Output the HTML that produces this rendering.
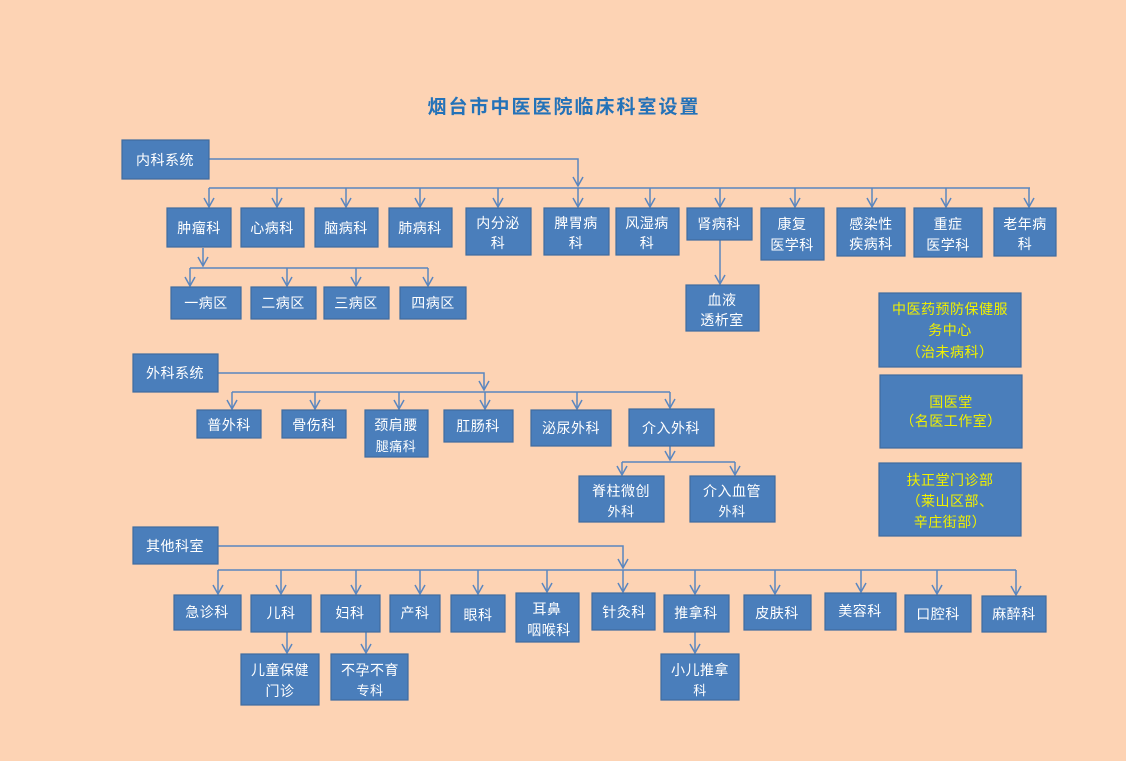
<!DOCTYPE html>
<html><head><meta charset="utf-8"><style>
html,body{margin:0;padding:0;background:#fdd3b4;}
svg{display:block}
text{font-family:"Liberation Sans","Noto Sans CJK SC",sans-serif;}
.b{fill:#4a7ebb;stroke:#3f6c9f;stroke-width:1.2}
.t{fill:#fff;font-size:14px;text-anchor:middle;letter-spacing:0.5px}
.y{fill:#f0f000;font-size:14px;text-anchor:middle;letter-spacing:0.5px}
.l{stroke:#5a86bf;stroke-width:1.5;fill:none}
</style></head><body>
<svg width="1126" height="761" viewBox="0 0 1126 761">
<defs><marker id="a" markerWidth="12" markerHeight="12" refX="10" refY="6" orient="auto" markerUnits="userSpaceOnUse"><path d="M1,1 L10,6 L1,11" stroke="#5a86bf" stroke-width="1.5" fill="none"/></marker></defs>
<text x="564" y="113" style="font-size:19px;font-weight:bold;fill:#2472b8;letter-spacing:2px" text-anchor="middle">烟台市中医医院临床科室设置</text>

<g class="l">
<path d="M209,159 H578 V186" marker-end="url(#a)"/>
<path d="M209,188 H1030"/>
<path d="M209,188 V207" marker-end="url(#a)"/><path d="M277,188 V207" marker-end="url(#a)"/><path d="M346,188 V207" marker-end="url(#a)"/><path d="M420,188 V207" marker-end="url(#a)"/><path d="M498,188 V207" marker-end="url(#a)"/><path d="M578,188 V207" marker-end="url(#a)"/><path d="M650,188 V207" marker-end="url(#a)"/><path d="M720,188 V207" marker-end="url(#a)"/><path d="M795,188 V207" marker-end="url(#a)"/><path d="M872,188 V207" marker-end="url(#a)"/><path d="M946,188 V207" marker-end="url(#a)"/><path d="M1029,188 V207" marker-end="url(#a)"/>
<path d="M203,248 V266" marker-end="url(#a)"/>
<path d="M190,268 H428"/>
<path d="M190,268 V286" marker-end="url(#a)"/><path d="M287,268 V286" marker-end="url(#a)"/><path d="M356,268 V286" marker-end="url(#a)"/><path d="M428,268 V286" marker-end="url(#a)"/>
<path d="M720,240 V284" marker-end="url(#a)"/>
<path d="M218,373 H484 V390" marker-end="url(#a)"/>
<path d="M232,392 H670"/>
<path d="M232,392 V409" marker-end="url(#a)"/><path d="M315,392 V409" marker-end="url(#a)"/><path d="M399,392 V409" marker-end="url(#a)"/><path d="M485,392 V409" marker-end="url(#a)"/><path d="M577,392 V409" marker-end="url(#a)"/><path d="M670,392 V408" marker-end="url(#a)"/>
<path d="M670,446 V460" marker-end="url(#a)"/>
<path d="M622,462 H735"/>
<path d="M622,462 V475" marker-end="url(#a)"/><path d="M735,462 V475" marker-end="url(#a)"/>
<path d="M218,546 H623 V568" marker-end="url(#a)"/>
<path d="M218,570 H1016"/>
<path d="M218,570 V594" marker-end="url(#a)"/><path d="M281,570 V594" marker-end="url(#a)"/><path d="M356,570 V594" marker-end="url(#a)"/><path d="M420,570 V594" marker-end="url(#a)"/><path d="M478,570 V594" marker-end="url(#a)"/><path d="M547,570 V592" marker-end="url(#a)"/><path d="M623,570 V592" marker-end="url(#a)"/><path d="M695,570 V594" marker-end="url(#a)"/><path d="M775,570 V594" marker-end="url(#a)"/><path d="M861,570 V592" marker-end="url(#a)"/><path d="M937,570 V594" marker-end="url(#a)"/><path d="M1016,570 V595" marker-end="url(#a)"/>
<path d="M287,632 V653" marker-end="url(#a)"/><path d="M366,632 V653" marker-end="url(#a)"/><path d="M695,632 V653" marker-end="url(#a)"/>
</g>

<rect class="b" x="122" y="140" width="87" height="39"/><text class="t" x="165" y="165">内科系统</text>
<rect class="b" x="167" y="208" width="64" height="39"/><text class="t" x="199" y="233">肿瘤科</text>
<rect class="b" x="241" y="208" width="63" height="39"/><text class="t" x="272" y="233">心病科</text>
<rect class="b" x="315" y="208" width="63" height="39"/><text class="t" x="346" y="233">脑病科</text>
<rect class="b" x="389" y="208" width="63" height="39"/><text class="t" x="420" y="233">肺病科</text>
<rect class="b" x="466" y="208" width="65" height="47"/><text class="t" x="498" y="228">内分泌</text><text class="t" x="498" y="248">科</text>
<rect class="b" x="544" y="208" width="65" height="47"/><text class="t" x="576" y="228">脾胃病</text><text class="t" x="576" y="248">科</text>
<rect class="b" x="616" y="208" width="63" height="47"/><text class="t" x="647" y="228">风湿病</text><text class="t" x="647" y="248">科</text>
<rect class="b" x="687" y="208" width="65" height="32"/><text class="t" x="719" y="229">肾病科</text>
<rect class="b" x="761" y="208" width="63" height="52"/><text class="t" x="792" y="229">康复</text><text class="t" x="792" y="250">医学科</text>
<rect class="b" x="837" y="208" width="68" height="48"/><text class="t" x="871" y="229">感染性</text><text class="t" x="871" y="249">疾病科</text>
<rect class="b" x="914" y="208" width="68" height="49"/><text class="t" x="948" y="229">重症</text><text class="t" x="948" y="250">医学科</text>
<rect class="b" x="994" y="208" width="62" height="48"/><text class="t" x="1025" y="229">老年病</text><text class="t" x="1025" y="249">科</text>
<rect class="b" x="171" y="287" width="70" height="32"/><text class="t" x="206" y="308">一病区</text>
<rect class="b" x="251" y="287" width="65" height="32"/><text class="t" x="283" y="308">二病区</text>
<rect class="b" x="324" y="287" width="65" height="32"/><text class="t" x="356" y="308">三病区</text>
<rect class="b" x="400" y="287" width="66" height="32"/><text class="t" x="433" y="308">四病区</text>
<rect class="b" x="686" y="285" width="73" height="46"/><text class="t" x="722" y="305">血液</text><text class="t" x="722" y="325">透析室</text>
<rect class="b" x="879" y="293" width="142" height="74"/><text class="y" x="950" y="314">中医药预防保健服</text><text class="y" x="950" y="335">务中心</text><text class="y" x="950" y="357">（治未病科）</text>
<rect class="b" x="880" y="375" width="142" height="73"/><text class="y" x="951" y="407">国医堂</text><text class="y" x="951" y="426">（名医工作室）</text>
<rect class="b" x="879" y="463" width="142" height="73"/><text class="y" x="950" y="485">扶正堂门诊部</text><text class="y" x="950" y="506">（莱山区部、</text><text class="y" x="950" y="527">辛庄街部）</text>

<rect class="b" x="133" y="354" width="85" height="38"/><text class="t" x="175" y="378">外科系统</text>
<rect class="b" x="197" y="410" width="64" height="28"/><text class="t" x="229" y="430">普外科</text>
<rect class="b" x="282" y="410" width="64" height="28"/><text class="t" x="314" y="430">骨伤科</text>
<rect class="b" x="365" y="410" width="63" height="47"/><text class="t" x="396" y="430">颈肩腰</text><text class="t" x="396" y="451" style="font-size:13px">腿痛科</text>
<rect class="b" x="444" y="410" width="69" height="32"/><text class="t" x="478" y="431">肛肠科</text>
<rect class="b" x="531" y="410" width="80" height="36"/><text class="t" x="571" y="433">泌尿外科</text>
<rect class="b" x="629" y="409" width="85" height="37"/><text class="t" x="671" y="433">介入外科</text>
<rect class="b" x="579" y="476" width="85" height="46"/><text class="t" x="621" y="496">脊柱微创</text><text class="t" x="621" y="516" style="font-size:13px">外科</text>
<rect class="b" x="690" y="476" width="85" height="46"/><text class="t" x="732" y="496">介入血管</text><text class="t" x="732" y="516" style="font-size:13px">外科</text>

<rect class="b" x="133" y="527" width="85" height="37"/><text class="t" x="175" y="551">其他科室</text>
<rect class="b" x="174" y="595" width="67" height="35"/><text class="t" x="207" y="617">急诊科</text>
<rect class="b" x="251" y="595" width="60" height="37"/><text class="t" x="281" y="618">儿科</text>
<rect class="b" x="321" y="595" width="59" height="37"/><text class="t" x="350" y="618">妇科</text>
<rect class="b" x="390" y="595" width="50" height="37"/><text class="t" x="415" y="618">产科</text>
<rect class="b" x="451" y="595" width="54" height="37"/><text class="t" x="478" y="620">眼科</text>
<rect class="b" x="516" y="593" width="63" height="49"/><text class="t" x="547" y="614">耳鼻</text><text class="t" x="549" y="635">咽喉科</text>
<rect class="b" x="592" y="593" width="63" height="37"/><text class="t" x="624" y="617">针灸科</text>
<rect class="b" x="664" y="595" width="65" height="37"/><text class="t" x="696" y="618">推拿科</text>
<rect class="b" x="744" y="595" width="67" height="35"/><text class="t" x="777" y="618">皮肤科</text>
<rect class="b" x="825" y="593" width="71" height="37"/><text class="t" x="860" y="616">美容科</text>
<rect class="b" x="905" y="595" width="66" height="37"/><text class="t" x="938" y="619">口腔科</text>
<rect class="b" x="982" y="596" width="64" height="36"/><text class="t" x="1014" y="619">麻醉科</text>
<rect class="b" x="241" y="654" width="78" height="51"/><text class="t" x="280" y="675">儿童保健</text><text class="t" x="280" y="696">门诊</text>
<rect class="b" x="331" y="654" width="77" height="46"/><text class="t" x="370" y="675">不孕不育</text><text class="t" x="370" y="695" style="font-size:13px">专科</text>
<rect class="b" x="661" y="654" width="78" height="46"/><text class="t" x="700" y="675">小儿推拿</text><text class="t" x="700" y="695" style="font-size:13px">科</text>
</svg>
</body></html>
